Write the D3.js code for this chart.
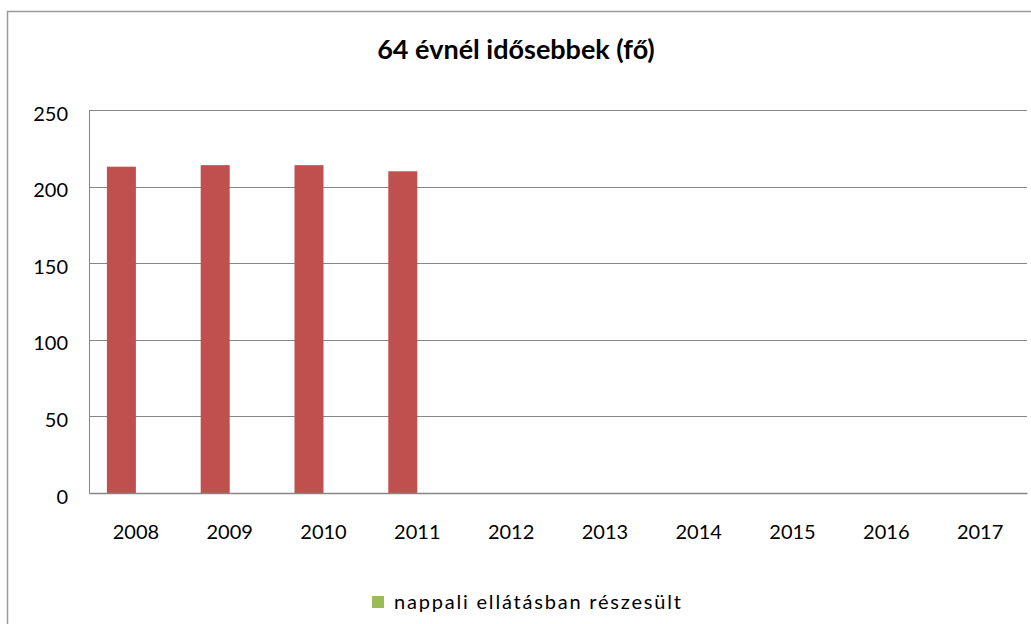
<!DOCTYPE html>
<html>
<head>
<meta charset="utf-8">
<script src="https://cdnjs.cloudflare.com/ajax/libs/d3/7.8.5/d3.min.js"></script>
<style>
  html, body { margin: 0; padding: 0; background: #fff; }
  svg { display: block; }
</style>
</head>
<body>
<svg id="chart" width="1031" height="624"></svg>
<script>
// Category labels (years)
const years = ["2008", "2009", "2010", "2011", "2012", "2013", "2014", "2015", "2016", "2017"];
// Series: first one (red) has no legend entry, second one (green) is shown in the legend
const seriesNames = ["összesen", "nappali ellátásban részesült"];
const seriesTotal = [213, 214, 214, 210, null, null, null, null, null, null];
const seriesDaycare = [null, null, null, null, null, null, null, null, null, null];
const seriesColors = ["#C0504D", "#9BBB59"];
const yTicks = [0, 50, 100, 150, 200, 250];
const titleText = "64 évnél idősebbek (fő)";

const svg = d3.select("#chart");
const font = "Lato, 'Open Sans', sans-serif";

// chart frame
svg.append("rect")
  .attr("x", 7.5).attr("y", 11.5)
  .attr("width", 1100).attr("height", 700)
  .attr("fill", "#fff")
  .attr("stroke", "#9a9a9a")
  .attr("stroke-width", 1.5);

const plot = { left: 89, right: 1027, top: 110, bottom: 493 };

const x0 = d3.scaleBand().domain(years).range([plot.left, plot.right]).padding(0);
const x1 = d3.scaleBand().domain(seriesNames).range([0, x0.bandwidth()])
  .paddingInner(0).paddingOuter(0.617);
const y = d3.scaleLinear().domain([0, 250]).range([plot.bottom, plot.top]);

// gridlines
svg.append("g")
  .selectAll("line")
  .data(yTicks.filter(t => t > 0))
  .join("line")
  .attr("x1", plot.left).attr("x2", plot.right)
  .attr("y1", d => Math.round(y(d)) + 0.5).attr("y2", d => Math.round(y(d)) + 0.5)
  .attr("stroke", "#868686").attr("stroke-width", 1);

// y axis
const yAxis = svg.append("g")
  .attr("transform", `translate(${plot.left},0)`)
  .call(d3.axisLeft(y).tickValues(yTicks).tickSize(0).tickPadding(21));
yAxis.select(".domain").attr("stroke", "#868686");
yAxis.selectAll("text")
  .attr("font-family", font).attr("font-size", 20).attr("fill", "#000")
  .attr("dy", "0.5em");

// bars
const rows = years.map((yr, i) => ({ year: yr, values: [seriesTotal[i], seriesDaycare[i]] }));
const groups = svg.append("g")
  .selectAll("g")
  .data(rows)
  .join("g")
  .attr("transform", d => `translate(${x0(d.year)},0)`);
groups.selectAll("rect")
  .data(d => d.values.map((v, j) => ({ name: seriesNames[j], value: v, color: seriesColors[j] }))
    .filter(e => e.value != null))
  .join("rect")
  .attr("x", d => x1(d.name))
  .attr("width", x1.bandwidth())
  .attr("y", d => y(d.value))
  .attr("height", d => y(0) - y(d.value))
  .attr("fill", d => d.color);

// x axis
const xAxis = svg.append("g")
  .attr("transform", `translate(0,${plot.bottom})`)
  .call(d3.axisBottom(x0).tickSize(0).tickPadding(32));
xAxis.select(".domain").attr("stroke", "#868686").attr("stroke-width", 1.5);
xAxis.selectAll("text")
  .attr("font-family", font).attr("font-size", 20).attr("fill", "#000");

// title
svg.append("text")
  .attr("x", 516).attr("y", 59)
  .attr("text-anchor", "middle")
  .attr("font-family", font).attr("font-weight", "bold").attr("font-size", 27)
  .attr("fill", "#000")
  .text(titleText);

// legend (second series only)
const legend = svg.append("g").attr("transform", "translate(372,596)");
legend.append("rect")
  .attr("x", 0).attr("y", 0).attr("width", 12).attr("height", 12)
  .attr("fill", seriesColors[1]);
legend.append("text")
  .attr("x", 22).attr("y", 13)
  .attr("font-family", font).attr("font-size", 20).attr("letter-spacing", 1.8)
  .attr("fill", "#000")
  .text(seriesNames[1]);
</script>
</body>
</html>
